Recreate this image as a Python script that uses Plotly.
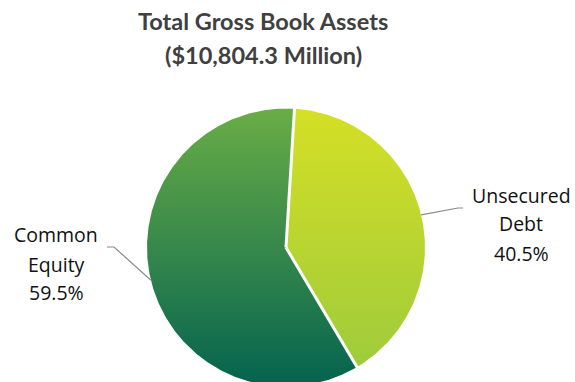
import math
import plotly.graph_objects as go

# Composition of total gross book assets (percent of total)
categories = ["Unsecured Debt", "Common Equity"]
label_lines = [["Unsecured", "Debt"], ["Common", "Equity"]]
shares = [40.5, 59.5]
title_lines = ["Total Gross Book Assets", "($10,804.3 Million)"]

# Vertical gradients per slice: (bottom colour, top colour)
gradients = [("#9BCA3D", "#D5DF25"), ("#04634F", "#69AD46")]

rotation_deg = 3.5  # first slice starts just clockwise of 12 o'clock
R = 1.0
W, H = 575, 382
cx_px, cy_px, r_px = 286.0, 247.5, 139.0


def px_to_data(px, py):
    return (px - cx_px) / r_px, (cy_px - py) / r_px


def polar(theta_deg, r=R):
    t = math.radians(theta_deg)
    return r * math.sin(t), r * math.cos(t)


fig = go.Figure()

total = sum(shares)
start = rotation_deg
bounds = []
mids = []
for name, share, (c_bot, c_top) in zip(categories, shares, gradients):
    sweep = 360.0 * share / total
    end = start + sweep
    n = max(8, int(sweep * 2))
    xs, ys = [0.0], [0.0]
    for i in range(n + 1):
        x, y = polar(start + sweep * i / n)
        xs.append(x)
        ys.append(y)
    xs.append(0.0)
    ys.append(0.0)
    fig.add_trace(go.Scatter(
        x=xs, y=ys, mode="lines", fill="toself", name=name,
        line=dict(width=0, color="rgba(0,0,0,0)"),
        fillgradient=dict(type="vertical", start=-R, stop=R,
                          colorscale=[[0, c_bot], [1, c_top]]),
        hoverinfo="name", showlegend=False,
    ))
    bounds.append(start)
    mids.append(start + sweep / 2)
    start = end

# White separators along the slice boundaries
for b in bounds:
    x, y = polar(b, R * 1.01)
    fig.add_trace(go.Scatter(x=[0, x], y=[0, y], mode="lines",
                             line=dict(color="white", width=3),
                             hoverinfo="skip", showlegend=False))

# Leader lines and labels (elbow and label positions in pixels)
leader_layout = [
    dict(elbow=(458, 208), tail=(463, 208), label_x=521, label_y=[195.5, 224, 253.5]),
    dict(elbow=(114, 247), tail=(107, 247), label_x=56, label_y=[234.5, 264.5, 292.5]),
]
annotations = []
for lines, share, mid, lay in zip(label_lines, shares, mids, leader_layout):
    ex, ey = polar(mid)
    bx, by = px_to_data(*lay["elbow"])
    tx, ty = px_to_data(*lay["tail"])
    fig.add_trace(go.Scatter(x=[ex, bx, tx], y=[ey, by, ty], mode="lines",
                             line=dict(color="#8A8A8A", width=1.2),
                             hoverinfo="skip", showlegend=False))
    texts = lines + [f"{share:.1f}%"]
    for t, ly in zip(texts, lay["label_y"]):
        annotations.append(dict(
            x=lay["label_x"] / W, y=1 - ly / H, xref="paper", yref="paper",
            text=t, showarrow=False, xanchor="center", yanchor="middle",
            font=dict(family="Open Sans", size=19.5, color="#111111"),
        ))

title_y = [21.5, 54.5]
for t, ty in zip(title_lines, title_y):
    annotations.append(dict(
        x=263 / W, y=1 - ty / H, xref="paper", yref="paper",
        text=f"<b>{t}</b>", showarrow=False, xanchor="center", yanchor="middle",
        font=dict(family="Lato", size=23.5, color="#404040"),
    ))

x0, y_top = px_to_data(0, 0)
x1, y_bot = px_to_data(W, H)
fig.update_layout(
    width=W, height=H,
    margin=dict(l=0, r=0, t=0, b=0),
    paper_bgcolor="white", plot_bgcolor="white",
    xaxis=dict(range=[x0, x1], visible=False, fixedrange=True),
    yaxis=dict(range=[y_bot, y_top], visible=False, fixedrange=True),
    annotations=annotations,
    showlegend=False,
)

fig.write_html("out.html")
